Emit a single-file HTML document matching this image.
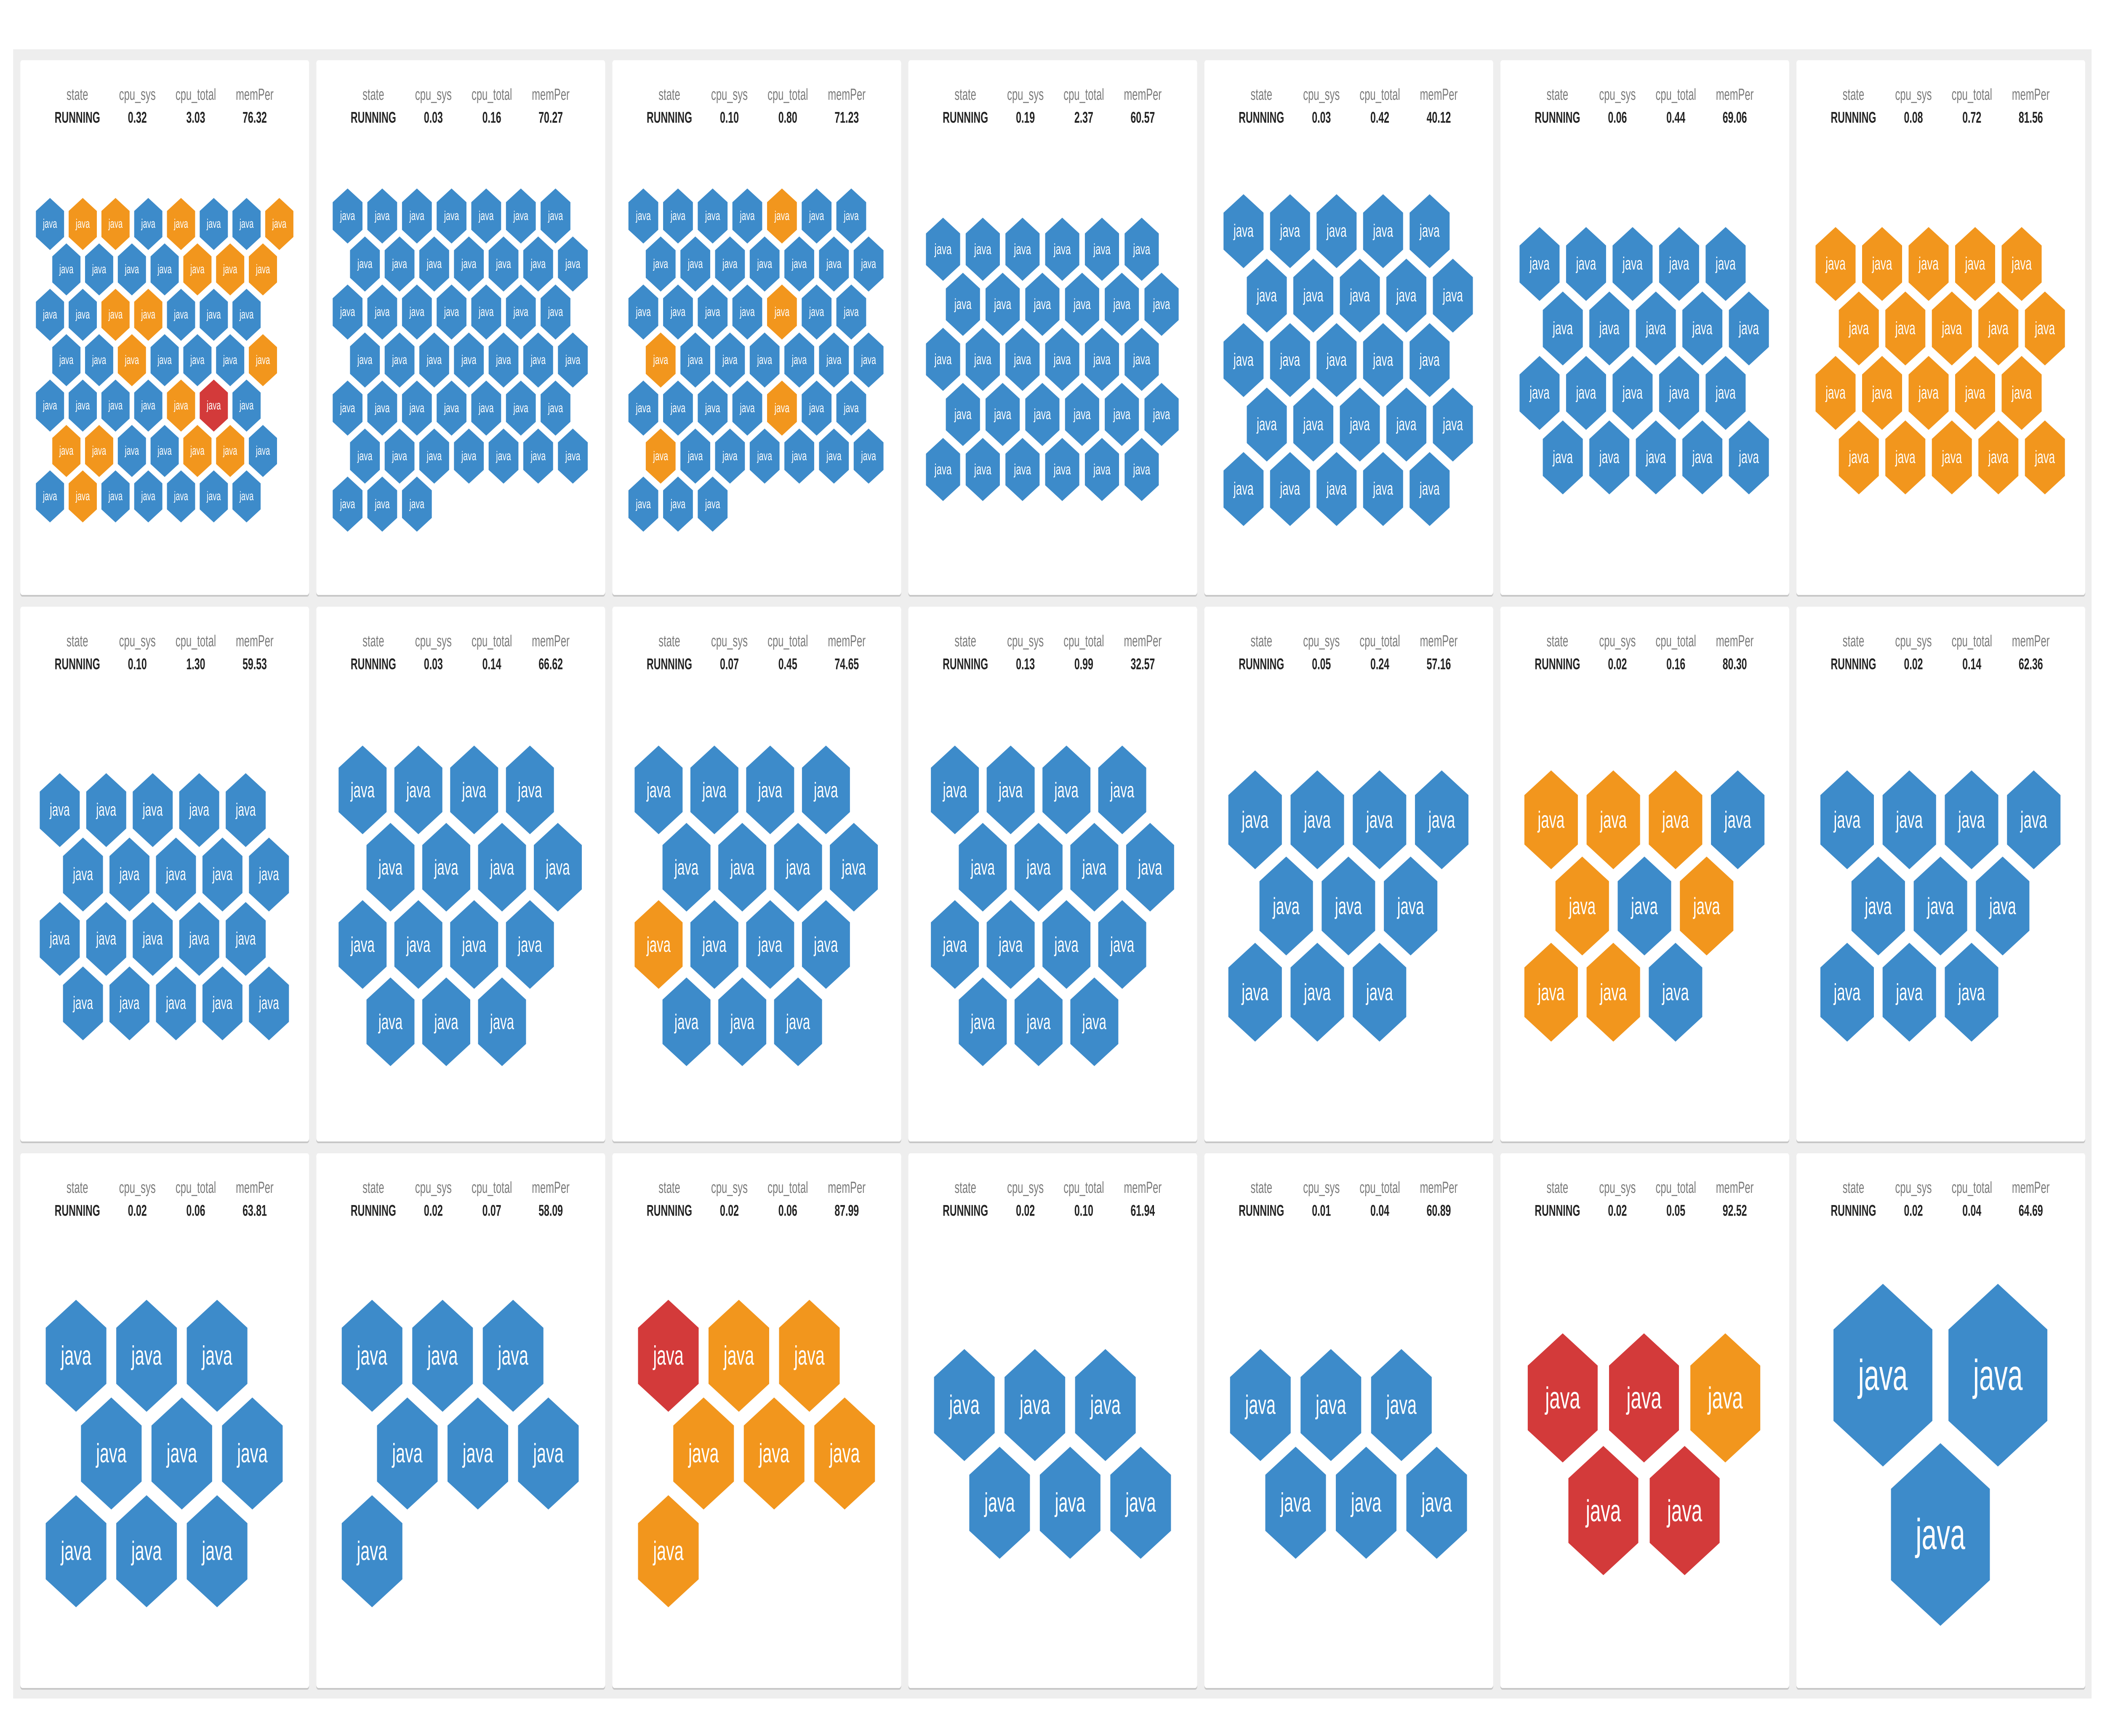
<!DOCTYPE html>
<html><head><meta charset="utf-8"><style>
html,body{margin:0;padding:0;overflow:hidden;background:#fff}
svg#hx{display:block;width:100vw;height:100vh}
.b{fill:#3d8bca}.o{fill:#f2961d}.r{fill:#d33a3a}
text{fill:#fff;font-size:23.5px;text-anchor:middle;dominant-baseline:central;font-family:"Liberation Sans",sans-serif}
text.l{fill:#7a7a7a;font-size:38px}
text.v{fill:#222;font-size:37px;font-weight:bold}
.cd{fill:#fff}.sh{fill:rgba(0,0,0,0.16)}
</style></head><body>
<svg id="hx" viewBox="0 0 8000 4123" preserveAspectRatio="none" xmlns="http://www.w3.org/2000/svg">
<defs>
<polygon id="h" points="0,-49.65 43,-24.82 43,24.82 0,49.65 -43,24.82 -43,-24.82"/>
<g id="card"><rect class="sh" x="0" y="3" width="1098" height="1271" rx="8"/><rect class="cd" x="0" y="0" width="1098" height="1270" rx="8"/></g>
</defs>
<rect x="50" y="117" width="7899" height="3917" fill="#eeeeee"/>

<!-- card frames -->
<use href="#card" x="77" y="143"/><use href="#card" x="1202" y="143"/><use href="#card" x="2327" y="143"/><use href="#card" x="3452" y="143"/><use href="#card" x="4577" y="143"/><use href="#card" x="5702" y="143"/><use href="#card" x="6827" y="143"/>
<use href="#card" x="77" y="1441"/><use href="#card" x="1202" y="1441"/><use href="#card" x="2327" y="1441"/><use href="#card" x="3452" y="1441"/><use href="#card" x="4577" y="1441"/><use href="#card" x="5702" y="1441"/><use href="#card" x="6827" y="1441"/>
<use href="#card" x="77" y="2739"/><use href="#card" x="1202" y="2739"/><use href="#card" x="2327" y="2739"/><use href="#card" x="3452" y="2739"/><use href="#card" x="4577" y="2739"/><use href="#card" x="5702" y="2739"/><use href="#card" x="6827" y="2739"/>

<!-- headers -->
<g transform="translate(77,143)"><text class="l" x="217" y="81">state</text><text class="l" x="445" y="81">cpu_sys</text><text class="l" x="667" y="81">cpu_total</text><text class="l" x="891" y="81">memPer</text><text class="v" x="217" y="136">RUNNING</text><text class="v" x="445" y="136">0.32</text><text class="v" x="667" y="136">3.03</text><text class="v" x="891" y="136">76.32</text></g>
<g transform="translate(1202,143)"><text class="l" x="217" y="81">state</text><text class="l" x="445" y="81">cpu_sys</text><text class="l" x="667" y="81">cpu_total</text><text class="l" x="891" y="81">memPer</text><text class="v" x="217" y="136">RUNNING</text><text class="v" x="445" y="136">0.03</text><text class="v" x="667" y="136">0.16</text><text class="v" x="891" y="136">70.27</text></g>
<g transform="translate(2327,143)"><text class="l" x="217" y="81">state</text><text class="l" x="445" y="81">cpu_sys</text><text class="l" x="667" y="81">cpu_total</text><text class="l" x="891" y="81">memPer</text><text class="v" x="217" y="136">RUNNING</text><text class="v" x="445" y="136">0.10</text><text class="v" x="667" y="136">0.80</text><text class="v" x="891" y="136">71.23</text></g>
<g transform="translate(3452,143)"><text class="l" x="217" y="81">state</text><text class="l" x="445" y="81">cpu_sys</text><text class="l" x="667" y="81">cpu_total</text><text class="l" x="891" y="81">memPer</text><text class="v" x="217" y="136">RUNNING</text><text class="v" x="445" y="136">0.19</text><text class="v" x="667" y="136">2.37</text><text class="v" x="891" y="136">60.57</text></g>
<g transform="translate(4577,143)"><text class="l" x="217" y="81">state</text><text class="l" x="445" y="81">cpu_sys</text><text class="l" x="667" y="81">cpu_total</text><text class="l" x="891" y="81">memPer</text><text class="v" x="217" y="136">RUNNING</text><text class="v" x="445" y="136">0.03</text><text class="v" x="667" y="136">0.42</text><text class="v" x="891" y="136">40.12</text></g>
<g transform="translate(5702,143)"><text class="l" x="217" y="81">state</text><text class="l" x="445" y="81">cpu_sys</text><text class="l" x="667" y="81">cpu_total</text><text class="l" x="891" y="81">memPer</text><text class="v" x="217" y="136">RUNNING</text><text class="v" x="445" y="136">0.06</text><text class="v" x="667" y="136">0.44</text><text class="v" x="891" y="136">69.06</text></g>
<g transform="translate(6827,143)"><text class="l" x="217" y="81">state</text><text class="l" x="445" y="81">cpu_sys</text><text class="l" x="667" y="81">cpu_total</text><text class="l" x="891" y="81">memPer</text><text class="v" x="217" y="136">RUNNING</text><text class="v" x="445" y="136">0.08</text><text class="v" x="667" y="136">0.72</text><text class="v" x="891" y="136">81.56</text></g>
<g transform="translate(77,1441)"><text class="l" x="217" y="81">state</text><text class="l" x="445" y="81">cpu_sys</text><text class="l" x="667" y="81">cpu_total</text><text class="l" x="891" y="81">memPer</text><text class="v" x="217" y="136">RUNNING</text><text class="v" x="445" y="136">0.10</text><text class="v" x="667" y="136">1.30</text><text class="v" x="891" y="136">59.53</text></g>
<g transform="translate(1202,1441)"><text class="l" x="217" y="81">state</text><text class="l" x="445" y="81">cpu_sys</text><text class="l" x="667" y="81">cpu_total</text><text class="l" x="891" y="81">memPer</text><text class="v" x="217" y="136">RUNNING</text><text class="v" x="445" y="136">0.03</text><text class="v" x="667" y="136">0.14</text><text class="v" x="891" y="136">66.62</text></g>
<g transform="translate(2327,1441)"><text class="l" x="217" y="81">state</text><text class="l" x="445" y="81">cpu_sys</text><text class="l" x="667" y="81">cpu_total</text><text class="l" x="891" y="81">memPer</text><text class="v" x="217" y="136">RUNNING</text><text class="v" x="445" y="136">0.07</text><text class="v" x="667" y="136">0.45</text><text class="v" x="891" y="136">74.65</text></g>
<g transform="translate(3452,1441)"><text class="l" x="217" y="81">state</text><text class="l" x="445" y="81">cpu_sys</text><text class="l" x="667" y="81">cpu_total</text><text class="l" x="891" y="81">memPer</text><text class="v" x="217" y="136">RUNNING</text><text class="v" x="445" y="136">0.13</text><text class="v" x="667" y="136">0.99</text><text class="v" x="891" y="136">32.57</text></g>
<g transform="translate(4577,1441)"><text class="l" x="217" y="81">state</text><text class="l" x="445" y="81">cpu_sys</text><text class="l" x="667" y="81">cpu_total</text><text class="l" x="891" y="81">memPer</text><text class="v" x="217" y="136">RUNNING</text><text class="v" x="445" y="136">0.05</text><text class="v" x="667" y="136">0.24</text><text class="v" x="891" y="136">57.16</text></g>
<g transform="translate(5702,1441)"><text class="l" x="217" y="81">state</text><text class="l" x="445" y="81">cpu_sys</text><text class="l" x="667" y="81">cpu_total</text><text class="l" x="891" y="81">memPer</text><text class="v" x="217" y="136">RUNNING</text><text class="v" x="445" y="136">0.02</text><text class="v" x="667" y="136">0.16</text><text class="v" x="891" y="136">80.30</text></g>
<g transform="translate(6827,1441)"><text class="l" x="217" y="81">state</text><text class="l" x="445" y="81">cpu_sys</text><text class="l" x="667" y="81">cpu_total</text><text class="l" x="891" y="81">memPer</text><text class="v" x="217" y="136">RUNNING</text><text class="v" x="445" y="136">0.02</text><text class="v" x="667" y="136">0.14</text><text class="v" x="891" y="136">62.36</text></g>
<g transform="translate(77,2739)"><text class="l" x="217" y="81">state</text><text class="l" x="445" y="81">cpu_sys</text><text class="l" x="667" y="81">cpu_total</text><text class="l" x="891" y="81">memPer</text><text class="v" x="217" y="136">RUNNING</text><text class="v" x="445" y="136">0.02</text><text class="v" x="667" y="136">0.06</text><text class="v" x="891" y="136">63.81</text></g>
<g transform="translate(1202,2739)"><text class="l" x="217" y="81">state</text><text class="l" x="445" y="81">cpu_sys</text><text class="l" x="667" y="81">cpu_total</text><text class="l" x="891" y="81">memPer</text><text class="v" x="217" y="136">RUNNING</text><text class="v" x="445" y="136">0.02</text><text class="v" x="667" y="136">0.07</text><text class="v" x="891" y="136">58.09</text></g>
<g transform="translate(2327,2739)"><text class="l" x="217" y="81">state</text><text class="l" x="445" y="81">cpu_sys</text><text class="l" x="667" y="81">cpu_total</text><text class="l" x="891" y="81">memPer</text><text class="v" x="217" y="136">RUNNING</text><text class="v" x="445" y="136">0.02</text><text class="v" x="667" y="136">0.06</text><text class="v" x="891" y="136">87.99</text></g>
<g transform="translate(3452,2739)"><text class="l" x="217" y="81">state</text><text class="l" x="445" y="81">cpu_sys</text><text class="l" x="667" y="81">cpu_total</text><text class="l" x="891" y="81">memPer</text><text class="v" x="217" y="136">RUNNING</text><text class="v" x="445" y="136">0.02</text><text class="v" x="667" y="136">0.10</text><text class="v" x="891" y="136">61.94</text></g>
<g transform="translate(4577,2739)"><text class="l" x="217" y="81">state</text><text class="l" x="445" y="81">cpu_sys</text><text class="l" x="667" y="81">cpu_total</text><text class="l" x="891" y="81">memPer</text><text class="v" x="217" y="136">RUNNING</text><text class="v" x="445" y="136">0.01</text><text class="v" x="667" y="136">0.04</text><text class="v" x="891" y="136">60.89</text></g>
<g transform="translate(5702,2739)"><text class="l" x="217" y="81">state</text><text class="l" x="445" y="81">cpu_sys</text><text class="l" x="667" y="81">cpu_total</text><text class="l" x="891" y="81">memPer</text><text class="v" x="217" y="136">RUNNING</text><text class="v" x="445" y="136">0.02</text><text class="v" x="667" y="136">0.05</text><text class="v" x="891" y="136">92.52</text></g>
<g transform="translate(6827,2739)"><text class="l" x="217" y="81">state</text><text class="l" x="445" y="81">cpu_sys</text><text class="l" x="667" y="81">cpu_total</text><text class="l" x="891" y="81">memPer</text><text class="v" x="217" y="136">RUNNING</text><text class="v" x="445" y="136">0.02</text><text class="v" x="667" y="136">0.04</text><text class="v" x="891" y="136">64.69</text></g>

<!-- card 1 -->
<g transform="translate(190,532) scale(1.245)">
<use href="#h" x="0" y="0" class="b"/><text x="0" y="0">java</text><use href="#h" x="100" y="0" class="o"/><text x="100" y="0">java</text><use href="#h" x="200" y="0" class="o"/><text x="200" y="0">java</text><use href="#h" x="300" y="0" class="b"/><text x="300" y="0">java</text><use href="#h" x="400" y="0" class="o"/><text x="400" y="0">java</text><use href="#h" x="500" y="0" class="b"/><text x="500" y="0">java</text><use href="#h" x="600" y="0" class="b"/><text x="600" y="0">java</text><use href="#h" x="700" y="0" class="o"/><text x="700" y="0">java</text>
<use href="#h" x="50" y="86.6" class="b"/><text x="50" y="86.6">java</text><use href="#h" x="150" y="86.6" class="b"/><text x="150" y="86.6">java</text><use href="#h" x="250" y="86.6" class="b"/><text x="250" y="86.6">java</text><use href="#h" x="350" y="86.6" class="b"/><text x="350" y="86.6">java</text><use href="#h" x="450" y="86.6" class="o"/><text x="450" y="86.6">java</text><use href="#h" x="550" y="86.6" class="o"/><text x="550" y="86.6">java</text><use href="#h" x="650" y="86.6" class="o"/><text x="650" y="86.6">java</text>
<use href="#h" x="0" y="173.2" class="b"/><text x="0" y="173.2">java</text><use href="#h" x="100" y="173.2" class="b"/><text x="100" y="173.2">java</text><use href="#h" x="200" y="173.2" class="o"/><text x="200" y="173.2">java</text><use href="#h" x="300" y="173.2" class="o"/><text x="300" y="173.2">java</text><use href="#h" x="400" y="173.2" class="b"/><text x="400" y="173.2">java</text><use href="#h" x="500" y="173.2" class="b"/><text x="500" y="173.2">java</text><use href="#h" x="600" y="173.2" class="b"/><text x="600" y="173.2">java</text>
<use href="#h" x="50" y="259.8" class="b"/><text x="50" y="259.8">java</text><use href="#h" x="150" y="259.8" class="b"/><text x="150" y="259.8">java</text><use href="#h" x="250" y="259.8" class="o"/><text x="250" y="259.8">java</text><use href="#h" x="350" y="259.8" class="b"/><text x="350" y="259.8">java</text><use href="#h" x="450" y="259.8" class="b"/><text x="450" y="259.8">java</text><use href="#h" x="550" y="259.8" class="b"/><text x="550" y="259.8">java</text><use href="#h" x="650" y="259.8" class="o"/><text x="650" y="259.8">java</text>
<use href="#h" x="0" y="346.4" class="b"/><text x="0" y="346.4">java</text><use href="#h" x="100" y="346.4" class="b"/><text x="100" y="346.4">java</text><use href="#h" x="200" y="346.4" class="b"/><text x="200" y="346.4">java</text><use href="#h" x="300" y="346.4" class="b"/><text x="300" y="346.4">java</text><use href="#h" x="400" y="346.4" class="o"/><text x="400" y="346.4">java</text><use href="#h" x="500" y="346.4" class="r"/><text x="500" y="346.4">java</text><use href="#h" x="600" y="346.4" class="b"/><text x="600" y="346.4">java</text>
<use href="#h" x="50" y="433" class="o"/><text x="50" y="433">java</text><use href="#h" x="150" y="433" class="o"/><text x="150" y="433">java</text><use href="#h" x="250" y="433" class="b"/><text x="250" y="433">java</text><use href="#h" x="350" y="433" class="b"/><text x="350" y="433">java</text><use href="#h" x="450" y="433" class="o"/><text x="450" y="433">java</text><use href="#h" x="550" y="433" class="o"/><text x="550" y="433">java</text><use href="#h" x="650" y="433" class="b"/><text x="650" y="433">java</text>
<use href="#h" x="0" y="519.6" class="b"/><text x="0" y="519.6">java</text><use href="#h" x="100" y="519.6" class="o"/><text x="100" y="519.6">java</text><use href="#h" x="200" y="519.6" class="b"/><text x="200" y="519.6">java</text><use href="#h" x="300" y="519.6" class="b"/><text x="300" y="519.6">java</text><use href="#h" x="400" y="519.6" class="b"/><text x="400" y="519.6">java</text><use href="#h" x="500" y="519.6" class="b"/><text x="500" y="519.6">java</text><use href="#h" x="600" y="519.6" class="b"/><text x="600" y="519.6">java</text>
</g>

<!-- card 2 -->
<g transform="translate(1321,513) scale(1.317)">
<use href="#h" x="0" y="0" class="b"/><text x="0" y="0">java</text><use href="#h" x="100" y="0" class="b"/><text x="100" y="0">java</text><use href="#h" x="200" y="0" class="b"/><text x="200" y="0">java</text><use href="#h" x="300" y="0" class="b"/><text x="300" y="0">java</text><use href="#h" x="400" y="0" class="b"/><text x="400" y="0">java</text><use href="#h" x="500" y="0" class="b"/><text x="500" y="0">java</text><use href="#h" x="600" y="0" class="b"/><text x="600" y="0">java</text>
<use href="#h" x="50" y="86.6" class="b"/><text x="50" y="86.6">java</text><use href="#h" x="150" y="86.6" class="b"/><text x="150" y="86.6">java</text><use href="#h" x="250" y="86.6" class="b"/><text x="250" y="86.6">java</text><use href="#h" x="350" y="86.6" class="b"/><text x="350" y="86.6">java</text><use href="#h" x="450" y="86.6" class="b"/><text x="450" y="86.6">java</text><use href="#h" x="550" y="86.6" class="b"/><text x="550" y="86.6">java</text><use href="#h" x="650" y="86.6" class="b"/><text x="650" y="86.6">java</text>
<use href="#h" x="0" y="173.2" class="b"/><text x="0" y="173.2">java</text><use href="#h" x="100" y="173.2" class="b"/><text x="100" y="173.2">java</text><use href="#h" x="200" y="173.2" class="b"/><text x="200" y="173.2">java</text><use href="#h" x="300" y="173.2" class="b"/><text x="300" y="173.2">java</text><use href="#h" x="400" y="173.2" class="b"/><text x="400" y="173.2">java</text><use href="#h" x="500" y="173.2" class="b"/><text x="500" y="173.2">java</text><use href="#h" x="600" y="173.2" class="b"/><text x="600" y="173.2">java</text>
<use href="#h" x="50" y="259.8" class="b"/><text x="50" y="259.8">java</text><use href="#h" x="150" y="259.8" class="b"/><text x="150" y="259.8">java</text><use href="#h" x="250" y="259.8" class="b"/><text x="250" y="259.8">java</text><use href="#h" x="350" y="259.8" class="b"/><text x="350" y="259.8">java</text><use href="#h" x="450" y="259.8" class="b"/><text x="450" y="259.8">java</text><use href="#h" x="550" y="259.8" class="b"/><text x="550" y="259.8">java</text><use href="#h" x="650" y="259.8" class="b"/><text x="650" y="259.8">java</text>
<use href="#h" x="0" y="346.4" class="b"/><text x="0" y="346.4">java</text><use href="#h" x="100" y="346.4" class="b"/><text x="100" y="346.4">java</text><use href="#h" x="200" y="346.4" class="b"/><text x="200" y="346.4">java</text><use href="#h" x="300" y="346.4" class="b"/><text x="300" y="346.4">java</text><use href="#h" x="400" y="346.4" class="b"/><text x="400" y="346.4">java</text><use href="#h" x="500" y="346.4" class="b"/><text x="500" y="346.4">java</text><use href="#h" x="600" y="346.4" class="b"/><text x="600" y="346.4">java</text>
<use href="#h" x="50" y="433" class="b"/><text x="50" y="433">java</text><use href="#h" x="150" y="433" class="b"/><text x="150" y="433">java</text><use href="#h" x="250" y="433" class="b"/><text x="250" y="433">java</text><use href="#h" x="350" y="433" class="b"/><text x="350" y="433">java</text><use href="#h" x="450" y="433" class="b"/><text x="450" y="433">java</text><use href="#h" x="550" y="433" class="b"/><text x="550" y="433">java</text><use href="#h" x="650" y="433" class="b"/><text x="650" y="433">java</text>
<use href="#h" x="0" y="519.6" class="b"/><text x="0" y="519.6">java</text><use href="#h" x="100" y="519.6" class="b"/><text x="100" y="519.6">java</text><use href="#h" x="200" y="519.6" class="b"/><text x="200" y="519.6">java</text>
</g>

<!-- card 3 -->
<g transform="translate(2445,513) scale(1.317)">
<use href="#h" x="0" y="0" class="b"/><text x="0" y="0">java</text><use href="#h" x="100" y="0" class="b"/><text x="100" y="0">java</text><use href="#h" x="200" y="0" class="b"/><text x="200" y="0">java</text><use href="#h" x="300" y="0" class="b"/><text x="300" y="0">java</text><use href="#h" x="400" y="0" class="o"/><text x="400" y="0">java</text><use href="#h" x="500" y="0" class="b"/><text x="500" y="0">java</text><use href="#h" x="600" y="0" class="b"/><text x="600" y="0">java</text>
<use href="#h" x="50" y="86.6" class="b"/><text x="50" y="86.6">java</text><use href="#h" x="150" y="86.6" class="b"/><text x="150" y="86.6">java</text><use href="#h" x="250" y="86.6" class="b"/><text x="250" y="86.6">java</text><use href="#h" x="350" y="86.6" class="b"/><text x="350" y="86.6">java</text><use href="#h" x="450" y="86.6" class="b"/><text x="450" y="86.6">java</text><use href="#h" x="550" y="86.6" class="b"/><text x="550" y="86.6">java</text><use href="#h" x="650" y="86.6" class="b"/><text x="650" y="86.6">java</text>
<use href="#h" x="0" y="173.2" class="b"/><text x="0" y="173.2">java</text><use href="#h" x="100" y="173.2" class="b"/><text x="100" y="173.2">java</text><use href="#h" x="200" y="173.2" class="b"/><text x="200" y="173.2">java</text><use href="#h" x="300" y="173.2" class="b"/><text x="300" y="173.2">java</text><use href="#h" x="400" y="173.2" class="o"/><text x="400" y="173.2">java</text><use href="#h" x="500" y="173.2" class="b"/><text x="500" y="173.2">java</text><use href="#h" x="600" y="173.2" class="b"/><text x="600" y="173.2">java</text>
<use href="#h" x="50" y="259.8" class="o"/><text x="50" y="259.8">java</text><use href="#h" x="150" y="259.8" class="b"/><text x="150" y="259.8">java</text><use href="#h" x="250" y="259.8" class="b"/><text x="250" y="259.8">java</text><use href="#h" x="350" y="259.8" class="b"/><text x="350" y="259.8">java</text><use href="#h" x="450" y="259.8" class="b"/><text x="450" y="259.8">java</text><use href="#h" x="550" y="259.8" class="b"/><text x="550" y="259.8">java</text><use href="#h" x="650" y="259.8" class="b"/><text x="650" y="259.8">java</text>
<use href="#h" x="0" y="346.4" class="b"/><text x="0" y="346.4">java</text><use href="#h" x="100" y="346.4" class="b"/><text x="100" y="346.4">java</text><use href="#h" x="200" y="346.4" class="b"/><text x="200" y="346.4">java</text><use href="#h" x="300" y="346.4" class="b"/><text x="300" y="346.4">java</text><use href="#h" x="400" y="346.4" class="o"/><text x="400" y="346.4">java</text><use href="#h" x="500" y="346.4" class="b"/><text x="500" y="346.4">java</text><use href="#h" x="600" y="346.4" class="b"/><text x="600" y="346.4">java</text>
<use href="#h" x="50" y="433" class="o"/><text x="50" y="433">java</text><use href="#h" x="150" y="433" class="b"/><text x="150" y="433">java</text><use href="#h" x="250" y="433" class="b"/><text x="250" y="433">java</text><use href="#h" x="350" y="433" class="b"/><text x="350" y="433">java</text><use href="#h" x="450" y="433" class="b"/><text x="450" y="433">java</text><use href="#h" x="550" y="433" class="b"/><text x="550" y="433">java</text><use href="#h" x="650" y="433" class="b"/><text x="650" y="433">java</text>
<use href="#h" x="0" y="519.6" class="b"/><text x="0" y="519.6">java</text><use href="#h" x="100" y="519.6" class="b"/><text x="100" y="519.6">java</text><use href="#h" x="200" y="519.6" class="b"/><text x="200" y="519.6">java</text>
</g>

<!-- card 4 -->
<g transform="translate(3584,592) scale(1.51)">
<use href="#h" x="0" y="0" class="b"/><text x="0" y="0">java</text><use href="#h" x="100" y="0" class="b"/><text x="100" y="0">java</text><use href="#h" x="200" y="0" class="b"/><text x="200" y="0">java</text><use href="#h" x="300" y="0" class="b"/><text x="300" y="0">java</text><use href="#h" x="400" y="0" class="b"/><text x="400" y="0">java</text><use href="#h" x="500" y="0" class="b"/><text x="500" y="0">java</text>
<use href="#h" x="50" y="86.6" class="b"/><text x="50" y="86.6">java</text><use href="#h" x="150" y="86.6" class="b"/><text x="150" y="86.6">java</text><use href="#h" x="250" y="86.6" class="b"/><text x="250" y="86.6">java</text><use href="#h" x="350" y="86.6" class="b"/><text x="350" y="86.6">java</text><use href="#h" x="450" y="86.6" class="b"/><text x="450" y="86.6">java</text><use href="#h" x="550" y="86.6" class="b"/><text x="550" y="86.6">java</text>
<use href="#h" x="0" y="173.2" class="b"/><text x="0" y="173.2">java</text><use href="#h" x="100" y="173.2" class="b"/><text x="100" y="173.2">java</text><use href="#h" x="200" y="173.2" class="b"/><text x="200" y="173.2">java</text><use href="#h" x="300" y="173.2" class="b"/><text x="300" y="173.2">java</text><use href="#h" x="400" y="173.2" class="b"/><text x="400" y="173.2">java</text><use href="#h" x="500" y="173.2" class="b"/><text x="500" y="173.2">java</text>
<use href="#h" x="50" y="259.8" class="b"/><text x="50" y="259.8">java</text><use href="#h" x="150" y="259.8" class="b"/><text x="150" y="259.8">java</text><use href="#h" x="250" y="259.8" class="b"/><text x="250" y="259.8">java</text><use href="#h" x="350" y="259.8" class="b"/><text x="350" y="259.8">java</text><use href="#h" x="450" y="259.8" class="b"/><text x="450" y="259.8">java</text><use href="#h" x="550" y="259.8" class="b"/><text x="550" y="259.8">java</text>
<use href="#h" x="0" y="346.4" class="b"/><text x="0" y="346.4">java</text><use href="#h" x="100" y="346.4" class="b"/><text x="100" y="346.4">java</text><use href="#h" x="200" y="346.4" class="b"/><text x="200" y="346.4">java</text><use href="#h" x="300" y="346.4" class="b"/><text x="300" y="346.4">java</text><use href="#h" x="400" y="346.4" class="b"/><text x="400" y="346.4">java</text><use href="#h" x="500" y="346.4" class="b"/><text x="500" y="346.4">java</text>
</g>

<!-- card 5 -->
<g transform="translate(4726,549) scale(1.768)">
<use href="#h" x="0" y="0" class="b"/><text x="0" y="0">java</text><use href="#h" x="100" y="0" class="b"/><text x="100" y="0">java</text><use href="#h" x="200" y="0" class="b"/><text x="200" y="0">java</text><use href="#h" x="300" y="0" class="b"/><text x="300" y="0">java</text><use href="#h" x="400" y="0" class="b"/><text x="400" y="0">java</text>
<use href="#h" x="50" y="86.6" class="b"/><text x="50" y="86.6">java</text><use href="#h" x="150" y="86.6" class="b"/><text x="150" y="86.6">java</text><use href="#h" x="250" y="86.6" class="b"/><text x="250" y="86.6">java</text><use href="#h" x="350" y="86.6" class="b"/><text x="350" y="86.6">java</text><use href="#h" x="450" y="86.6" class="b"/><text x="450" y="86.6">java</text>
<use href="#h" x="0" y="173.2" class="b"/><text x="0" y="173.2">java</text><use href="#h" x="100" y="173.2" class="b"/><text x="100" y="173.2">java</text><use href="#h" x="200" y="173.2" class="b"/><text x="200" y="173.2">java</text><use href="#h" x="300" y="173.2" class="b"/><text x="300" y="173.2">java</text><use href="#h" x="400" y="173.2" class="b"/><text x="400" y="173.2">java</text>
<use href="#h" x="50" y="259.8" class="b"/><text x="50" y="259.8">java</text><use href="#h" x="150" y="259.8" class="b"/><text x="150" y="259.8">java</text><use href="#h" x="250" y="259.8" class="b"/><text x="250" y="259.8">java</text><use href="#h" x="350" y="259.8" class="b"/><text x="350" y="259.8">java</text><use href="#h" x="450" y="259.8" class="b"/><text x="450" y="259.8">java</text>
<use href="#h" x="0" y="346.4" class="b"/><text x="0" y="346.4">java</text><use href="#h" x="100" y="346.4" class="b"/><text x="100" y="346.4">java</text><use href="#h" x="200" y="346.4" class="b"/><text x="200" y="346.4">java</text><use href="#h" x="300" y="346.4" class="b"/><text x="300" y="346.4">java</text><use href="#h" x="400" y="346.4" class="b"/><text x="400" y="346.4">java</text>
</g>

<!-- card 6 -->
<g transform="translate(5851,627) scale(1.768)">
<use href="#h" x="0" y="0" class="b"/><text x="0" y="0">java</text><use href="#h" x="100" y="0" class="b"/><text x="100" y="0">java</text><use href="#h" x="200" y="0" class="b"/><text x="200" y="0">java</text><use href="#h" x="300" y="0" class="b"/><text x="300" y="0">java</text><use href="#h" x="400" y="0" class="b"/><text x="400" y="0">java</text>
<use href="#h" x="50" y="86.6" class="b"/><text x="50" y="86.6">java</text><use href="#h" x="150" y="86.6" class="b"/><text x="150" y="86.6">java</text><use href="#h" x="250" y="86.6" class="b"/><text x="250" y="86.6">java</text><use href="#h" x="350" y="86.6" class="b"/><text x="350" y="86.6">java</text><use href="#h" x="450" y="86.6" class="b"/><text x="450" y="86.6">java</text>
<use href="#h" x="0" y="173.2" class="b"/><text x="0" y="173.2">java</text><use href="#h" x="100" y="173.2" class="b"/><text x="100" y="173.2">java</text><use href="#h" x="200" y="173.2" class="b"/><text x="200" y="173.2">java</text><use href="#h" x="300" y="173.2" class="b"/><text x="300" y="173.2">java</text><use href="#h" x="400" y="173.2" class="b"/><text x="400" y="173.2">java</text>
<use href="#h" x="50" y="259.8" class="b"/><text x="50" y="259.8">java</text><use href="#h" x="150" y="259.8" class="b"/><text x="150" y="259.8">java</text><use href="#h" x="250" y="259.8" class="b"/><text x="250" y="259.8">java</text><use href="#h" x="350" y="259.8" class="b"/><text x="350" y="259.8">java</text><use href="#h" x="450" y="259.8" class="b"/><text x="450" y="259.8">java</text>
</g>

<!-- card 7 -->
<g transform="translate(6976,627) scale(1.768)">
<use href="#h" x="0" y="0" class="o"/><text x="0" y="0">java</text><use href="#h" x="100" y="0" class="o"/><text x="100" y="0">java</text><use href="#h" x="200" y="0" class="o"/><text x="200" y="0">java</text><use href="#h" x="300" y="0" class="o"/><text x="300" y="0">java</text><use href="#h" x="400" y="0" class="o"/><text x="400" y="0">java</text>
<use href="#h" x="50" y="86.6" class="o"/><text x="50" y="86.6">java</text><use href="#h" x="150" y="86.6" class="o"/><text x="150" y="86.6">java</text><use href="#h" x="250" y="86.6" class="o"/><text x="250" y="86.6">java</text><use href="#h" x="350" y="86.6" class="o"/><text x="350" y="86.6">java</text><use href="#h" x="450" y="86.6" class="o"/><text x="450" y="86.6">java</text>
<use href="#h" x="0" y="173.2" class="o"/><text x="0" y="173.2">java</text><use href="#h" x="100" y="173.2" class="o"/><text x="100" y="173.2">java</text><use href="#h" x="200" y="173.2" class="o"/><text x="200" y="173.2">java</text><use href="#h" x="300" y="173.2" class="o"/><text x="300" y="173.2">java</text><use href="#h" x="400" y="173.2" class="o"/><text x="400" y="173.2">java</text>
<use href="#h" x="50" y="259.8" class="o"/><text x="50" y="259.8">java</text><use href="#h" x="150" y="259.8" class="o"/><text x="150" y="259.8">java</text><use href="#h" x="250" y="259.8" class="o"/><text x="250" y="259.8">java</text><use href="#h" x="350" y="259.8" class="o"/><text x="350" y="259.8">java</text><use href="#h" x="450" y="259.8" class="o"/><text x="450" y="259.8">java</text>
</g>

<!-- card 8 -->
<g transform="translate(227,1924) scale(1.767)">
<use href="#h" x="0" y="0" class="b"/><text x="0" y="0">java</text><use href="#h" x="100" y="0" class="b"/><text x="100" y="0">java</text><use href="#h" x="200" y="0" class="b"/><text x="200" y="0">java</text><use href="#h" x="300" y="0" class="b"/><text x="300" y="0">java</text><use href="#h" x="400" y="0" class="b"/><text x="400" y="0">java</text>
<use href="#h" x="50" y="86.6" class="b"/><text x="50" y="86.6">java</text><use href="#h" x="150" y="86.6" class="b"/><text x="150" y="86.6">java</text><use href="#h" x="250" y="86.6" class="b"/><text x="250" y="86.6">java</text><use href="#h" x="350" y="86.6" class="b"/><text x="350" y="86.6">java</text><use href="#h" x="450" y="86.6" class="b"/><text x="450" y="86.6">java</text>
<use href="#h" x="0" y="173.2" class="b"/><text x="0" y="173.2">java</text><use href="#h" x="100" y="173.2" class="b"/><text x="100" y="173.2">java</text><use href="#h" x="200" y="173.2" class="b"/><text x="200" y="173.2">java</text><use href="#h" x="300" y="173.2" class="b"/><text x="300" y="173.2">java</text><use href="#h" x="400" y="173.2" class="b"/><text x="400" y="173.2">java</text>
<use href="#h" x="50" y="259.8" class="b"/><text x="50" y="259.8">java</text><use href="#h" x="150" y="259.8" class="b"/><text x="150" y="259.8">java</text><use href="#h" x="250" y="259.8" class="b"/><text x="250" y="259.8">java</text><use href="#h" x="350" y="259.8" class="b"/><text x="350" y="259.8">java</text><use href="#h" x="450" y="259.8" class="b"/><text x="450" y="259.8">java</text>
</g>

<!-- card 9 -->
<g transform="translate(1378,1876) scale(2.12)">
<use href="#h" x="0" y="0" class="b"/><text x="0" y="0">java</text><use href="#h" x="100" y="0" class="b"/><text x="100" y="0">java</text><use href="#h" x="200" y="0" class="b"/><text x="200" y="0">java</text><use href="#h" x="300" y="0" class="b"/><text x="300" y="0">java</text>
<use href="#h" x="50" y="86.6" class="b"/><text x="50" y="86.6">java</text><use href="#h" x="150" y="86.6" class="b"/><text x="150" y="86.6">java</text><use href="#h" x="250" y="86.6" class="b"/><text x="250" y="86.6">java</text><use href="#h" x="350" y="86.6" class="b"/><text x="350" y="86.6">java</text>
<use href="#h" x="0" y="173.2" class="b"/><text x="0" y="173.2">java</text><use href="#h" x="100" y="173.2" class="b"/><text x="100" y="173.2">java</text><use href="#h" x="200" y="173.2" class="b"/><text x="200" y="173.2">java</text><use href="#h" x="300" y="173.2" class="b"/><text x="300" y="173.2">java</text>
<use href="#h" x="50" y="259.8" class="b"/><text x="50" y="259.8">java</text><use href="#h" x="150" y="259.8" class="b"/><text x="150" y="259.8">java</text><use href="#h" x="250" y="259.8" class="b"/><text x="250" y="259.8">java</text>
</g>

<!-- card 10 -->
<g transform="translate(2503,1876) scale(2.12)">
<use href="#h" x="0" y="0" class="b"/><text x="0" y="0">java</text><use href="#h" x="100" y="0" class="b"/><text x="100" y="0">java</text><use href="#h" x="200" y="0" class="b"/><text x="200" y="0">java</text><use href="#h" x="300" y="0" class="b"/><text x="300" y="0">java</text>
<use href="#h" x="50" y="86.6" class="b"/><text x="50" y="86.6">java</text><use href="#h" x="150" y="86.6" class="b"/><text x="150" y="86.6">java</text><use href="#h" x="250" y="86.6" class="b"/><text x="250" y="86.6">java</text><use href="#h" x="350" y="86.6" class="b"/><text x="350" y="86.6">java</text>
<use href="#h" x="0" y="173.2" class="o"/><text x="0" y="173.2">java</text><use href="#h" x="100" y="173.2" class="b"/><text x="100" y="173.2">java</text><use href="#h" x="200" y="173.2" class="b"/><text x="200" y="173.2">java</text><use href="#h" x="300" y="173.2" class="b"/><text x="300" y="173.2">java</text>
<use href="#h" x="50" y="259.8" class="b"/><text x="50" y="259.8">java</text><use href="#h" x="150" y="259.8" class="b"/><text x="150" y="259.8">java</text><use href="#h" x="250" y="259.8" class="b"/><text x="250" y="259.8">java</text>
</g>

<!-- card 11 -->
<g transform="translate(3629,1876) scale(2.12)">
<use href="#h" x="0" y="0" class="b"/><text x="0" y="0">java</text><use href="#h" x="100" y="0" class="b"/><text x="100" y="0">java</text><use href="#h" x="200" y="0" class="b"/><text x="200" y="0">java</text><use href="#h" x="300" y="0" class="b"/><text x="300" y="0">java</text>
<use href="#h" x="50" y="86.6" class="b"/><text x="50" y="86.6">java</text><use href="#h" x="150" y="86.6" class="b"/><text x="150" y="86.6">java</text><use href="#h" x="250" y="86.6" class="b"/><text x="250" y="86.6">java</text><use href="#h" x="350" y="86.6" class="b"/><text x="350" y="86.6">java</text>
<use href="#h" x="0" y="173.2" class="b"/><text x="0" y="173.2">java</text><use href="#h" x="100" y="173.2" class="b"/><text x="100" y="173.2">java</text><use href="#h" x="200" y="173.2" class="b"/><text x="200" y="173.2">java</text><use href="#h" x="300" y="173.2" class="b"/><text x="300" y="173.2">java</text>
<use href="#h" x="50" y="259.8" class="b"/><text x="50" y="259.8">java</text><use href="#h" x="150" y="259.8" class="b"/><text x="150" y="259.8">java</text><use href="#h" x="250" y="259.8" class="b"/><text x="250" y="259.8">java</text>
</g>

<!-- card 12 -->
<g transform="translate(4770,1947) scale(2.364)">
<use href="#h" x="0" y="0" class="b"/><text x="0" y="0">java</text><use href="#h" x="100" y="0" class="b"/><text x="100" y="0">java</text><use href="#h" x="200" y="0" class="b"/><text x="200" y="0">java</text><use href="#h" x="300" y="0" class="b"/><text x="300" y="0">java</text>
<use href="#h" x="50" y="86.6" class="b"/><text x="50" y="86.6">java</text><use href="#h" x="150" y="86.6" class="b"/><text x="150" y="86.6">java</text><use href="#h" x="250" y="86.6" class="b"/><text x="250" y="86.6">java</text>
<use href="#h" x="0" y="173.2" class="b"/><text x="0" y="173.2">java</text><use href="#h" x="100" y="173.2" class="b"/><text x="100" y="173.2">java</text><use href="#h" x="200" y="173.2" class="b"/><text x="200" y="173.2">java</text>
</g>

<!-- card 13 -->
<g transform="translate(5895,1947) scale(2.364)">
<use href="#h" x="0" y="0" class="o"/><text x="0" y="0">java</text><use href="#h" x="100" y="0" class="o"/><text x="100" y="0">java</text><use href="#h" x="200" y="0" class="o"/><text x="200" y="0">java</text><use href="#h" x="300" y="0" class="b"/><text x="300" y="0">java</text>
<use href="#h" x="50" y="86.6" class="o"/><text x="50" y="86.6">java</text><use href="#h" x="150" y="86.6" class="b"/><text x="150" y="86.6">java</text><use href="#h" x="250" y="86.6" class="o"/><text x="250" y="86.6">java</text>
<use href="#h" x="0" y="173.2" class="o"/><text x="0" y="173.2">java</text><use href="#h" x="100" y="173.2" class="o"/><text x="100" y="173.2">java</text><use href="#h" x="200" y="173.2" class="b"/><text x="200" y="173.2">java</text>
</g>

<!-- card 14 -->
<g transform="translate(7020,1947) scale(2.364)">
<use href="#h" x="0" y="0" class="b"/><text x="0" y="0">java</text><use href="#h" x="100" y="0" class="b"/><text x="100" y="0">java</text><use href="#h" x="200" y="0" class="b"/><text x="200" y="0">java</text><use href="#h" x="300" y="0" class="b"/><text x="300" y="0">java</text>
<use href="#h" x="50" y="86.6" class="b"/><text x="50" y="86.6">java</text><use href="#h" x="150" y="86.6" class="b"/><text x="150" y="86.6">java</text><use href="#h" x="250" y="86.6" class="b"/><text x="250" y="86.6">java</text>
<use href="#h" x="0" y="173.2" class="b"/><text x="0" y="173.2">java</text><use href="#h" x="100" y="173.2" class="b"/><text x="100" y="173.2">java</text><use href="#h" x="200" y="173.2" class="b"/><text x="200" y="173.2">java</text>
</g>

<!-- card 15 -->
<g transform="translate(289,3220) scale(2.68)">
<use href="#h" x="0" y="0" class="b"/><text x="0" y="0">java</text><use href="#h" x="100" y="0" class="b"/><text x="100" y="0">java</text><use href="#h" x="200" y="0" class="b"/><text x="200" y="0">java</text>
<use href="#h" x="50" y="86.6" class="b"/><text x="50" y="86.6">java</text><use href="#h" x="150" y="86.6" class="b"/><text x="150" y="86.6">java</text><use href="#h" x="250" y="86.6" class="b"/><text x="250" y="86.6">java</text>
<use href="#h" x="0" y="173.2" class="b"/><text x="0" y="173.2">java</text><use href="#h" x="100" y="173.2" class="b"/><text x="100" y="173.2">java</text><use href="#h" x="200" y="173.2" class="b"/><text x="200" y="173.2">java</text>
</g>

<!-- card 16 -->
<g transform="translate(1414,3220) scale(2.68)">
<use href="#h" x="0" y="0" class="b"/><text x="0" y="0">java</text><use href="#h" x="100" y="0" class="b"/><text x="100" y="0">java</text><use href="#h" x="200" y="0" class="b"/><text x="200" y="0">java</text>
<use href="#h" x="50" y="86.6" class="b"/><text x="50" y="86.6">java</text><use href="#h" x="150" y="86.6" class="b"/><text x="150" y="86.6">java</text><use href="#h" x="250" y="86.6" class="b"/><text x="250" y="86.6">java</text>
<use href="#h" x="0" y="173.2" class="b"/><text x="0" y="173.2">java</text>
</g>

<!-- card 17 -->
<g transform="translate(2540,3220) scale(2.68)">
<use href="#h" x="0" y="0" class="r"/><text x="0" y="0">java</text><use href="#h" x="100" y="0" class="o"/><text x="100" y="0">java</text><use href="#h" x="200" y="0" class="o"/><text x="200" y="0">java</text>
<use href="#h" x="50" y="86.6" class="o"/><text x="50" y="86.6">java</text><use href="#h" x="150" y="86.6" class="o"/><text x="150" y="86.6">java</text><use href="#h" x="250" y="86.6" class="o"/><text x="250" y="86.6">java</text>
<use href="#h" x="0" y="173.2" class="o"/><text x="0" y="173.2">java</text>
</g>

<!-- card 18 -->
<g transform="translate(3665,3337) scale(2.68)">
<use href="#h" x="0" y="0" class="b"/><text x="0" y="0">java</text><use href="#h" x="100" y="0" class="b"/><text x="100" y="0">java</text><use href="#h" x="200" y="0" class="b"/><text x="200" y="0">java</text>
<use href="#h" x="50" y="86.6" class="b"/><text x="50" y="86.6">java</text><use href="#h" x="150" y="86.6" class="b"/><text x="150" y="86.6">java</text><use href="#h" x="250" y="86.6" class="b"/><text x="250" y="86.6">java</text>
</g>

<!-- card 19 -->
<g transform="translate(4790,3337) scale(2.68)">
<use href="#h" x="0" y="0" class="b"/><text x="0" y="0">java</text><use href="#h" x="100" y="0" class="b"/><text x="100" y="0">java</text><use href="#h" x="200" y="0" class="b"/><text x="200" y="0">java</text>
<use href="#h" x="50" y="86.6" class="b"/><text x="50" y="86.6">java</text><use href="#h" x="150" y="86.6" class="b"/><text x="150" y="86.6">java</text><use href="#h" x="250" y="86.6" class="b"/><text x="250" y="86.6">java</text>
</g>

<!-- card 20 -->
<g transform="translate(5939,3320) scale(3.09)">
<use href="#h" x="0" y="0" class="r"/><text x="0" y="0">java</text><use href="#h" x="100" y="0" class="r"/><text x="100" y="0">java</text><use href="#h" x="200" y="0" class="o"/><text x="200" y="0">java</text>
<use href="#h" x="50" y="86.6" class="r"/><text x="50" y="86.6">java</text><use href="#h" x="150" y="86.6" class="r"/><text x="150" y="86.6">java</text>
</g>

<!-- card 21 -->
<g transform="translate(7156,3266) scale(4.37)">
<use href="#h" x="0" y="0" class="b"/><text x="0" y="0">java</text><use href="#h" x="100" y="0" class="b"/><text x="100" y="0">java</text>
<use href="#h" x="50" y="86.6" class="b"/><text x="50" y="86.6">java</text>
</g>
</svg>
</body></html>
